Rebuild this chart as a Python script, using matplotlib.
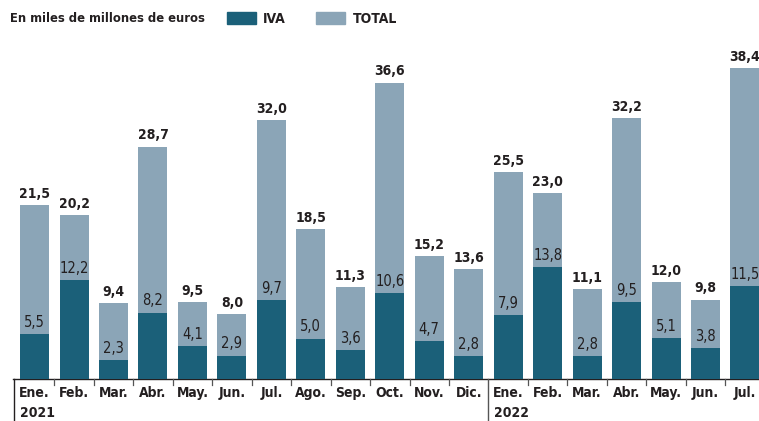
import matplotlib
matplotlib.use("Agg")
import matplotlib.pyplot as plt
from matplotlib import font_manager as fm
from matplotlib.patches import Rectangle
from matplotlib.lines import Line2D
import os

files = [f.fname for f in fm.fontManager.ttflist]

def pick(cands):
    for c in cands:
        for f in files:
            if os.path.basename(f).lower().startswith(c.lower()):
                return fm.FontProperties(fname=f)
    return None

FB = pick(["LiberationSansNarrow-Bold.", "DejaVuSansCondensed-Bold.", "RobotoCondensed-Bold", "OpenSans_Condensed-Bold", "Roboto-Bold"])
FR = pick(["LiberationSansNarrow-Regular.", "DejaVuSansCondensed.", "RobotoCondensed-Regular", "Roboto-Regular"])
if FB is None:
    FB = fm.FontProperties(family="DejaVu Sans", weight="bold")
if FR is None:
    FR = fm.FontProperties(family="DejaVu Sans")

def fb(size):
    p = FB.copy(); p.set_size(size); return p

def fr(size):
    p = FR.copy(); p.set_size(size); return p

months = ["Ene.", "Feb.", "Mar.", "Abr.", "May.", "Jun.", "Jul.", "Ago.", "Sep.", "Oct.", "Nov.", "Dic.",
          "Ene.", "Feb.", "Mar.", "Abr.", "May.", "Jun.", "Jul."]
total = [21.5, 20.2, 9.4, 28.7, 9.5, 8.0, 32.0, 18.5, 11.3, 36.6, 15.2, 13.6,
         25.5, 23.0, 11.1, 32.2, 12.0, 9.8, 38.4]
iva = [5.5, 12.2, 2.3, 8.2, 4.1, 2.9, 9.7, 5.0, 3.6, 10.6, 4.7, 2.8,
       7.9, 13.8, 2.8, 9.5, 5.1, 3.8, 11.5]
years = ["2021", "2022"]
year_start = [0, 12]

C_IVA = "#1b6079"
C_TOT = "#8ba5b7"
C_TXT = "#231f20"

W, H = 759, 421
fig = plt.figure(figsize=(W / 100, H / 100), dpi=100)
base_px = 379
ppu = 8.1
spacing = 39.47
left_px = 14.8
xlim = (-0.5, 18.35)
ax = fig.add_axes([left_px / W, (H - base_px) / H, (xlim[1] - xlim[0]) * spacing / W, base_px / H])
ax.set_xlim(*xlim)
ax.set_ylim(0, base_px / ppu)
ax.axis("off")

x = list(range(len(months)))
BW = 29 / spacing
ax.bar(x, total, width=BW, color=C_TOT, zorder=2)
ax.bar(x, iva, width=BW, color=C_IVA, zorder=3)

def fmt(v):
    return f"{v:.1f}".replace(".", ",")

for xi, t, v in zip(x, total, iva):
    ax.annotate(fmt(t), (xi, t), xytext=(0, 3), textcoords="offset points",
                ha="center", va="bottom", fontproperties=fb(10), color=C_TXT, zorder=4)
    ax.annotate(fmt(v), (xi, v), xytext=(0, 3), textcoords="offset points",
                ha="center", va="bottom", fontproperties=fr(10.5), color=C_TXT, zorder=4)

# axis line and ticks
trans = ax.get_xaxis_transform()
ax.add_line(Line2D([xlim[0] - 0.05, xlim[1]], [0, 0], transform=trans, color=C_TXT, lw=1.0, clip_on=False))
tick_len = 6 / base_px
for i in range(len(months) - 1):
    if i + 1 in year_start:
        continue
    ax.add_line(Line2D([i + 0.5, i + 0.5], [0, -tick_len], transform=trans, color="#555555", lw=0.9, clip_on=False))
for s in year_start:
    xs = s - 0.5 if s > 0 else s - 0.53
    ax.add_line(Line2D([xs, xs], [0, -(H - base_px) / base_px], transform=trans,
                       color=C_TXT if s == 0 else "#555555", lw=1.0, clip_on=False))

for xi, m in zip(x, months):
    ax.text(xi, -14 / base_px, m, transform=trans, ha="center", va="center",
            fontproperties=fb(10), color=C_TXT)
for s, yv in zip(year_start, years):
    ax.text(s - 0.37, -34 / base_px, yv, transform=trans, ha="left", va="center",
            fontproperties=fb(10), color=C_TXT)

# header / legend
fig.text(10 / W, 1 - 19 / H, "En miles de millones de euros", ha="left", va="center",
         fontproperties=fb(9.3), color=C_TXT)
fig.patches.append(Rectangle((227 / W, 1 - 24 / H), 29 / W, 12 / H, transform=fig.transFigure,
                             color=C_IVA, figure=fig))
fig.text(263 / W, 1 - 19 / H, "IVA", ha="left", va="center", fontproperties=fb(10), color=C_TXT)
fig.patches.append(Rectangle((316 / W, 1 - 24 / H), 29 / W, 12 / H, transform=fig.transFigure,
                             color=C_TOT, figure=fig))
fig.text(353 / W, 1 - 19 / H, "TOTAL", ha="left", va="center", fontproperties=fb(10), color=C_TXT)

fig.savefig("out.png", dpi=100)
